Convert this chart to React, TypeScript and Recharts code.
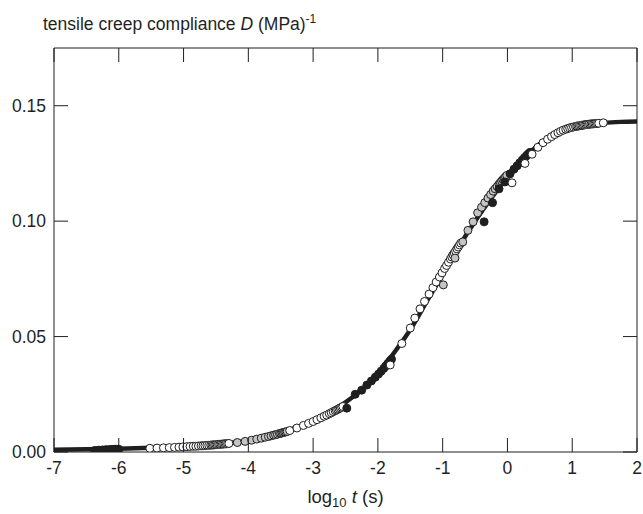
import React from "react";
import { ComposedChart, Line, Scatter, XAxis, YAxis } from "recharts";

// x = log10 t (s), y = tensile creep compliance D (MPa)^-1
const xTicks = [-7, -6, -5, -4, -3, -2, -1, 0, 1, 2];
const yTicks = [0, 0.05, 0.1, 0.15];

const curve: [number, number][] = [
  [-7, 0.001], [-6.5, 0.0012], [-6, 0.0014], [-5.5, 0.0018], [-5, 0.0024], [-4.5, 0.0033],
  [-4, 0.005], [-3.75, 0.0065], [-3.5, 0.0085], [-3.25, 0.0107], [-3, 0.0135], [-2.75, 0.017],
  [-2.5, 0.0215], [-2.25, 0.027], [-2, 0.034], [-1.75, 0.043], [-1.5, 0.053], [-1.25, 0.065],
  [-1, 0.077], [-0.75, 0.089], [-0.5, 0.1], [-0.25, 0.11], [0, 0.119], [0.25, 0.127],
  [0.5, 0.1335], [0.75, 0.1378], [1, 0.1404], [1.25, 0.1418], [1.5, 0.1426], [1.75, 0.143], [2, 0.1432],
];

const blackA: [number, number][] = [
  [-6.37, 0.0007], [-6.31, 0.0008], [-6.25, 0.0009], [-6.2, 0.001], [-6.16, 0.001], [-6.12, 0.0011],
  [-6.09, 0.0011], [-6.06, 0.0012], [-6.03, 0.0012], [-6.0, 0.0012],
];

const whiteA: [number, number][] = [
  [-5.52, 0.0016], [-5.41, 0.0017], [-5.31, 0.0018], [-5.22, 0.0019], [-5.14, 0.002], [-5.07, 0.0021],
  [-5.01, 0.0022], [-4.95, 0.0023], [-4.9, 0.0024], [-4.85, 0.0025], [-4.81, 0.0025], [-4.77, 0.0026],
  [-4.73, 0.0027], [-4.7, 0.0027], [-4.67, 0.0028], [-4.64, 0.0029], [-4.61, 0.0029], [-4.58, 0.003],
  [-4.56, 0.003], [-4.54, 0.0031], [-4.52, 0.0031], [-4.5, 0.0032], [-4.48, 0.0032], [-4.46, 0.0033],
  [-4.44, 0.0033], [-4.42, 0.0034], [-4.4, 0.0034], [-4.38, 0.0035], [-4.36, 0.0035], [-4.34, 0.0036],
  [-4.32, 0.0036], [-4.3, 0.0037],
];

const grayA: [number, number][] = [
  [-4.17, 0.0041], [-4.05, 0.0046], [-3.95, 0.0051], [-3.87, 0.0056], [-3.8, 0.006], [-3.74, 0.0064],
  [-3.69, 0.0067], [-3.65, 0.007], [-3.61, 0.0073], [-3.58, 0.0075], [-3.55, 0.0077], [-3.52, 0.008],
  [-3.5, 0.0081], [-3.48, 0.0083], [-3.46, 0.0084], [-3.44, 0.0086], [-3.42, 0.0087], [-3.4, 0.0089],
];

const whiteB: [number, number][] = [
  [-3.36, 0.0093], [-3.25, 0.0104], [-3.15, 0.0115], [-3.07, 0.0124], [-3.0, 0.0132], [-2.94, 0.014],
  [-2.88, 0.0148], [-2.83, 0.0155], [-2.79, 0.016], [-2.75, 0.0166], [-2.72, 0.017], [-2.69, 0.0175],
  [-2.66, 0.0179], [-2.64, 0.0182], [-2.62, 0.0185], [-2.6, 0.0188], [-2.58, 0.0191], [-2.56, 0.0194],
  [-2.54, 0.0197],
];

const blackB: [number, number][] = [
  [-2.48, 0.019], [-2.35, 0.025], [-2.25, 0.0268], [-2.17, 0.029], [-2.1, 0.0308], [-2.04, 0.0324],
  [-1.99, 0.0338], [-1.95, 0.035], [-1.91, 0.0362], [-1.88, 0.0372], [-1.85, 0.0382], [-1.83, 0.0388],
  [-1.81, 0.0395], [-1.79, 0.0402],
];

const whiteC: [number, number][] = [
  [-1.81, 0.0377], [-1.63, 0.047], [-1.5, 0.0537], [-1.43, 0.058], [-1.35, 0.062], [-1.28, 0.0652],
  [-1.21, 0.0684], [-1.15, 0.0712], [-1.1, 0.0736], [-1.05, 0.0758], [-1.01, 0.0776], [-0.97, 0.0795],
  [-0.94, 0.0808], [-0.91, 0.0822], [-0.88, 0.0836], [-0.86, 0.0845], [-0.84, 0.0854], [-0.82, 0.0862],
  [-0.8, 0.0871], [-0.78, 0.088], [-0.76, 0.0888], [-0.74, 0.0897], [-0.72, 0.0905],
];

const grayC: [number, number][] = [
  [-0.99, 0.0724], [-0.81, 0.084], [-0.69, 0.091], [-0.61, 0.096], [-0.53, 0.0997], [-0.46, 0.1036],
  [-0.4, 0.106], [-0.35, 0.108], [-0.3, 0.11], [-0.26, 0.1115], [-0.22, 0.113], [-0.19, 0.114],
  [-0.16, 0.115], [-0.13, 0.116], [-0.11, 0.1167], [-0.09, 0.1174], [-0.07, 0.118], [-0.05, 0.1186],
  [-0.03, 0.1192], [-0.01, 0.1198],
];

const blackC: [number, number][] = [
  [-0.36, 0.0997], [-0.23, 0.108], [-0.13, 0.114], [-0.04, 0.117], [0.04, 0.1205], [0.1, 0.1225],
  [0.15, 0.124], [0.19, 0.1253], [0.23, 0.1265], [0.26, 0.1274], [0.29, 0.1282], [0.31, 0.1288],
  [0.33, 0.1293], [0.35, 0.1298],
];

const whiteD: [number, number][] = [
  [0.07, 0.1166], [0.27, 0.125], [0.38, 0.129], [0.47, 0.132], [0.55, 0.134], [0.62, 0.1355],
  [0.68, 0.1366], [0.73, 0.1375], [0.78, 0.1383], [0.82, 0.1389], [0.86, 0.1394], [0.9, 0.1398],
  [0.93, 0.1401], [0.96, 0.1404], [0.99, 0.1406], [1.02, 0.1408], [1.05, 0.141], [1.07, 0.1411],
  [1.09, 0.1412], [1.11, 0.1413], [1.13, 0.1414], [1.15, 0.1415], [1.17, 0.1416], [1.19, 0.1417],
  [1.21, 0.1418], [1.23, 0.1419], [1.25, 0.1419], [1.27, 0.142], [1.29, 0.1421], [1.31, 0.1421],
  [1.33, 0.1422], [1.35, 0.1422], [1.37, 0.1423], [1.39, 0.1423], [1.41, 0.1424], [1.48, 0.1426],
];

const toObj = (arr: [number, number][]) => arr.map(([x, y]) => ({ x, y }));

const INK = "#1f1f1f";
const FONT = "'Liberation Sans', Arial, Helvetica, sans-serif";
const TICK_LEN = 14;
const FS = 17.5;

const dot = (fill: string) => (props: any) => (
  <circle cx={props.cx} cy={props.cy} r={4} fill={fill} stroke={INK} strokeWidth={1} />
);
const noDot = () => <g />;

const BottomTick = (props: any) => {
  const { x, y, payload } = props;
  return (
    <g>
      <line x1={x} x2={x} y1={y} y2={y - TICK_LEN} stroke={INK} strokeWidth={1} />
      <text x={x} y={y + 22} textAnchor="middle" fontSize={FS} fontFamily={FONT} fill={INK}>
        {String(payload.value)}
      </text>
    </g>
  );
};

const TopTick = (props: any) => {
  const { x, y } = props;
  return <line x1={x} x2={x} y1={y} y2={y + TICK_LEN} stroke={INK} strokeWidth={1} />;
};

const LeftTick = (props: any) => {
  const { x, y, payload } = props;
  return (
    <g>
      <line x1={x} x2={x + TICK_LEN} y1={y} y2={y} stroke={INK} strokeWidth={1} />
      <text x={x - 8} y={y + 6} textAnchor="end" fontSize={FS} fontFamily={FONT} fill={INK}>
        {Number(payload.value).toFixed(2)}
      </text>
    </g>
  );
};

const RightTick = (props: any) => {
  const { x, y } = props;
  return <line x1={x} x2={x - TICK_LEN} y1={y} y2={y} stroke={INK} strokeWidth={1} />;
};

export default function App() {
  const W = 643;
  const H = 514;
  return (
    <div style={{ position: "relative", width: W, height: H }}>
      <style>{"html,body{margin:0;padding:0;overflow:hidden;background:#fff}"}</style>
      <ComposedChart width={W} height={H} margin={{ top: 47, right: 5, bottom: 0, left: 0 }}>
        <XAxis
          xAxisId={0}
          type="number"
          dataKey="x"
          domain={[-7, 2]}
          ticks={xTicks}
          interval={0}
          allowDataOverflow
          height={62}
          tickSize={0}
          tickMargin={0}
          tickLine={false}
          tick={BottomTick}
          axisLine={{ stroke: INK, strokeWidth: 1 }}
        />
        <XAxis
          xAxisId="top"
          orientation="top"
          type="number"
          dataKey="x"
          domain={[-7, 2]}
          ticks={xTicks}
          interval={0}
          allowDataOverflow
          height={1}
          tickSize={0}
          tickMargin={0}
          tickLine={false}
          tick={TopTick}
          axisLine={{ stroke: INK, strokeWidth: 1 }}
        />
        <YAxis
          yAxisId={0}
          type="number"
          dataKey="y"
          domain={[0, 0.175]}
          ticks={yTicks}
          interval={0}
          allowDataOverflow
          width={54}
          tickSize={0}
          tickMargin={0}
          tickLine={false}
          tick={LeftTick}
          axisLine={{ stroke: INK, strokeWidth: 1 }}
        />
        <YAxis
          yAxisId="right"
          orientation="right"
          type="number"
          dataKey="y"
          domain={[0, 0.175]}
          ticks={yTicks}
          interval={0}
          allowDataOverflow
          width={1}
          tickSize={0}
          tickMargin={0}
          tickLine={false}
          tick={RightTick}
          axisLine={{ stroke: INK, strokeWidth: 1 }}
        />
        <Scatter
          data={toObj(curve)}
          xAxisId="top"
          yAxisId="right"
          shape={noDot}
          isAnimationActive={false}
        />
        <Line
          data={toObj(curve)}
          dataKey="y"
          type="monotone"
          stroke={INK}
          strokeWidth={4.5}
          dot={false}
          isAnimationActive={false}
        />
        <Scatter data={toObj(blackA)} shape={dot(INK)} isAnimationActive={false} />
        <Scatter data={toObj(whiteA)} shape={dot("#ffffff")} isAnimationActive={false} />
        <Scatter data={toObj(grayA)} shape={dot("#c4c4c4")} isAnimationActive={false} />
        <Scatter data={toObj(whiteB)} shape={dot("#ffffff")} isAnimationActive={false} />
        <Scatter data={toObj(blackB)} shape={dot(INK)} isAnimationActive={false} />
        <Scatter data={toObj(whiteC)} shape={dot("#ffffff")} isAnimationActive={false} />
        <Scatter data={toObj(grayC)} shape={dot("#c4c4c4")} isAnimationActive={false} />
        <Scatter data={toObj(blackC)} shape={dot(INK)} isAnimationActive={false} />
        <Scatter data={toObj(whiteD)} shape={dot("#ffffff")} isAnimationActive={false} />
      </ComposedChart>
      <svg
        width={W}
        height={H}
        style={{ position: "absolute", left: 0, top: 0, pointerEvents: "none" }}
      >
        <text x={43} y={30} fontSize={FS} fontFamily={FONT} fill={INK}>
          tensile creep compliance <tspan fontStyle="italic">D</tspan> (MPa)
          <tspan fontSize={12} dy={-7}>-1</tspan>
        </text>
        <text x={345.5} y={503} fontSize={18.5} fontFamily={FONT} fill={INK} textAnchor="middle">
          log<tspan fontSize={13} dy={4}>10</tspan>
          <tspan dy={-4}> </tspan>
          <tspan fontStyle="italic">t</tspan> (s)
        </text>
      </svg>
    </div>
  );
}
